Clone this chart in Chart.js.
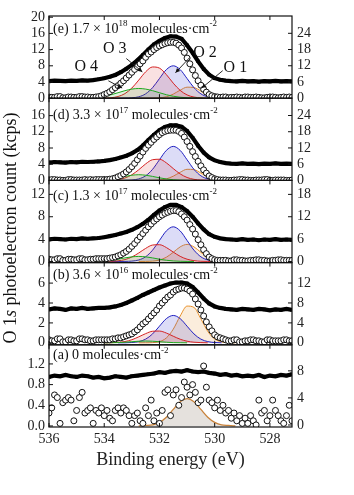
<!DOCTYPE html>
<html><head><meta charset="utf-8">
<script src="https://cdn.jsdelivr.net/npm/chart.js@4/dist/chart.umd.min.js"></script>
<style>html,body{margin:0;padding:0;background:#fff;}#wrap{width:354px;height:495px;}</style>
</head><body><div id="wrap"><canvas id="c" width="354" height="495"></canvas></div>
<script>
// ---------- DATA ----------
const energies = [536.0,535.8,535.6,535.4,535.2,535.0,534.8,534.6,534.4,534.2,534.0,533.8,533.6,533.4,533.2,533.0,532.8,532.6,532.4,532.2,532.0,531.8,531.6,531.4,531.2,531.0,530.8,530.6,530.4,530.2,530.0,529.8,529.6,529.4,529.2,529.0,528.8,528.6,528.4,528.2,528.0,527.8,527.6,527.4,527.2];
const energiesFine = [536.0,535.9,535.8,535.7,535.6,535.5,535.4,535.3,535.2,535.1,
 535.0,534.9,534.8,534.7,534.6,534.5,534.4,534.3,534.2,534.1,
 534.0,533.9,533.8,533.7,533.6,533.5,533.4,533.3,533.2,533.1,
 533.0,532.9,532.8,532.7,532.6,532.5,532.4,532.3,532.2,532.1,
 532.0,531.9,531.8,531.7,531.6,531.5,531.4,531.3,531.2,531.1,
 531.0,530.9,530.8,530.7,530.6,530.5,530.4,530.3,530.2,530.1,
 530.0,529.9,529.8,529.7,529.6,529.5,529.4,529.3,529.2,529.1,
 529.0,528.9,528.8,528.7,528.6,528.5,528.4,528.3,528.2,528.1,
 528.0,527.9,527.8,527.7,527.6,527.5,527.4,527.3,527.2];
const compEnergies = [534.5,534.25,534,533.75,533.5,533.25,533,532.75,532.5,532.25,532,531.75,531.5,531.25,531,530.75,530.5,530.25,530,529.75,529.5,529.25];

// (e) 1.7e18
const circlesE = [0.3,0.2,0.2,0.4,0.4,0.1,0.1,0.3,0.3,0.2,0.2,
 0.4,0.4,0.3,0.3,0.2,0.2,0.3,0.4,0.6,0.9,
 1.2,1.6,2.1,2.6,3.1,3.7,4.3,5.0,5.7,6.4,
 7.1,7.8,8.5,9.2,10.1,10.9,11.4,12.0,12.5,12.9,
 13.2,13.5,13.7,13.8,13.8,13.6,13.1,12.4,11.3,9.9,
 8.5,7.0,5.6,4.3,3.2,2.2,1.5,0.9,0.6,0.4,
 0.3,0.2,0.3,0.3,0.1,0.2,0.2,0.3,0.2,0.1,
 0.3,0.3,0.2,0.2,0.3,0.2,0.1,0.1,0.2,0.3,
 0.3,0.2,0.1,0.2,0.3,0.2,0.3,0.2];
const squaresE = [6.3,6.5,6.4,6.3,6.5,6.4,6.6,6.5,6.7,7.0,7.4,7.9,8.6,9.6,10.9,12.3,14.0,16.0,18.0,19.9,21.2,22.3,22.9,22.8,22.0,19.6,16.8,13.6,10.8,8.7,7.4,6.8,6.5,6.3,6.2,6.4,6.2,6.3,6.1,6.3,6.2,6.4,6.2,6.3,6.2];
const o4E = [0.1,0.24,0.48,0.86,1.35,1.86,2.25,2.4,2.25,1.86,1.35,0.86,0.48,0.24,0.1,0.04,0.01,0,null,null,null,null];
const o3E = [null,0,0.03,0.12,0.42,1.13,2.5,4.47,6.51,7.71,7.43,5.83,3.71,1.93,0.81,0.28,0.08,0.02,0,null,null,null];
const o2E = [null,null,null,0,0,0.02,0.09,0.35,1.08,2.6,4.86,7.06,8.0,7.06,4.86,2.6,1.08,0.35,0.09,0.02,0,null];
const o1E = [null,null,null,null,null,null,null,0,0,0.02,0.09,0.36,1.01,1.98,2.72,2.63,1.78,0.85,0.28,0.07,0.01,0];

// (d) 3.3e17
const circlesD = [0.1,0.2,0.2,0.1,0.1,0.0,0.0,0.2,0.2,0.1,0.1,
 0.1,0.1,0.2,0.1,0.2,0.1,0.2,0.2,0.2,0.2,
 0.2,0.3,0.4,0.6,0.9,1.2,1.6,2.1,2.7,3.4,
 4.2,5.1,6.0,7.0,7.9,8.7,9.4,10.1,10.7,11.3,
 11.8,12.1,12.3,12.4,12.4,12.4,12.1,11.6,10.7,9.6,
 8.4,7.1,5.9,4.7,3.6,2.6,1.8,1.1,0.7,0.4,
 0.2,0.1,0.1,0.1,0.0,0.0,0.1,0.1,0.2,0.2,
 0.1,0.1,0.0,0.0,0.1,0.1,0.1,0.2,0.2,0.0,
 0.0,0.1,0.1,0.1,0.1,0.0,0.0,0.1];
const squaresD = [6.6,6.8,6.7,6.6,6.8,6.7,6.9,6.8,6.9,7.0,7.2,7.5,7.9,8.5,9.1,10.0,11.2,12.9,14.9,16.9,18.6,19.8,20.4,20.4,19.9,18.3,15.8,12.8,10.3,8.5,7.4,6.8,6.4,6.2,6.1,6.3,6.1,6.2,6.0,6.2,6.1,6.3,6.1,6.2,6.1];
const o4D = [0.02,0.06,0.16,0.35,0.64,0.99,1.28,1.4,1.28,0.99,0.64,0.35,0.16,0.06,0.02,0,null,null,null,null,null,null];
const o3D = [null,0,0.01,0.06,0.21,0.59,1.39,2.63,4.07,5.11,5.22,4.33,2.92,1.61,0.72,0.26,0.08,0.02,0,null,null,null];
const o2D = [null,null,null,0,0,0.02,0.09,0.37,1.13,2.73,5.1,7.41,8.4,7.41,5.1,2.73,1.13,0.37,0.09,0.02,0,null];
const o1D = [null,null,null,null,null,null,null,0,0,0.02,0.1,0.38,1.04,2.0,2.74,2.65,1.82,0.9,0.31,0.08,0.02,0];

// (c) 1.3e17
const circlesC = [0.4,0.3,0.3,0.5,0.5,0.2,0.2,0.4,0.4,0.3,0.3,
 0.5,0.5,0.3,0.3,0.4,0.4,0.5,0.5,0.5,0.5,
 0.5,0.6,0.7,0.8,1.0,1.2,1.5,1.8,2.2,2.7,
 3.2,3.8,4.4,5.0,5.6,6.2,6.7,7.2,7.6,8.0,
 8.3,8.6,8.8,9.0,9.1,9.1,8.9,8.5,8.0,7.4,
 6.6,5.8,4.9,3.9,3.0,2.1,1.4,0.8,0.5,0.3,
 0.2,0.2,0.2,0.2,0.1,0.1,0.3,0.3,0.2,0.2,
 0.1,0.1,0.2,0.2,0.3,0.3,0.2,0.2,0.1,0.1,
 0.2,0.2,0.3,0.3,0.2,0.2,0.2,0.2];
const squaresC = [5.9,6.1,6.0,5.9,6.1,6.0,6.2,6.1,6.2,6.3,6.5,6.8,7.1,7.5,7.9,8.5,9.2,10.1,11.2,12.5,13.7,14.6,15.2,15.2,14.6,13.5,12.0,10.2,8.6,7.3,6.6,6.2,6.0,5.9,5.8,6.0,5.8,5.9,5.7,5.9,5.8,6.0,5.8,5.9,5.8];
const o4C = [0.01,0.04,0.1,0.22,0.41,0.64,0.83,0.9,0.83,0.64,0.41,0.22,0.1,0.04,0.01,0,null,null,null,null,null,null];
const o3C = [null,0,0.01,0.03,0.12,0.34,0.8,1.52,2.34,2.94,3.0,2.49,1.68,0.92,0.41,0.15,0.04,0.01,0,null,null,null];
const o2C = [null,null,null,0,0,0.01,0.07,0.27,0.84,2.02,3.76,5.47,6.2,5.47,3.76,2.02,0.84,0.27,0.07,0.01,0,null];
const o1C = [null,null,null,null,null,null,null,0,0.01,0.06,0.26,0.76,1.64,2.61,3.05,2.61,1.64,0.76,0.26,0.06,0.01,0];

// (b) 3.6e16
const circlesB = [0.3,0.2,0.2,0.4,0.4,0.1,0.1,0.3,0.3,0.2,0.2,
 0.4,0.4,0.3,0.3,0.2,0.2,0.3,0.3,0.3,0.3,
 0.3,0.3,0.4,0.4,0.5,0.5,0.6,0.7,0.8,0.9,
 1.1,1.3,1.6,1.9,2.1,2.4,2.7,3.0,3.3,3.7,
 4.0,4.3,4.6,4.8,5.1,5.3,5.4,5.5,5.5,5.4,
 5.2,4.9,4.4,3.9,3.3,2.7,2.1,1.6,1.2,0.8,
 0.6,0.5,0.4,0.3,0.2,0.2,0.3,0.3,0.1,0.1,
 0.2,0.2,0.3,0.3,0.2,0.2,0.1,0.1,0.3,0.3,
 0.2,0.2,0.2,0.2,0.3,0.3,0.2,0.2];
const squaresB = [6.7,6.9,6.8,6.6,6.9,6.8,7.0,6.8,6.9,7.0,7.0,7.1,7.3,7.6,8.0,8.5,9.0,9.6,10.1,10.6,11.1,11.5,11.9,12.1,12.1,11.9,11.2,10.1,8.9,7.9,7.3,7.0,6.8,6.7,6.6,6.8,6.7,6.6,6.8,6.7,6.5,6.7,6.6,6.8,6.6];
const o4B = [null,null,0,0.01,0.02,0.06,0.11,0.16,0.18,0.16,0.11,0.06,0.02,0.01,0,null,null,null,null,null,null,null];
const o3B = [null,null,0,0.01,0.05,0.13,0.31,0.6,0.92,1.16,1.18,0.98,0.66,0.36,0.16,0.06,0.02,0,null,null,null,null];
const o2B = [null,null,null,null,0,0,0.03,0.12,0.37,0.89,1.67,2.43,2.75,2.43,1.67,0.89,0.37,0.12,0.03,0,null,null];
const o1B = [null,null,null,null,null,null,null,0,0,0.02,0.12,0.49,1.37,2.69,3.69,3.56,2.41,1.15,0.38,0.09,0.02,0];

// (a) 0
const circlesA = [0.25,0.35,0.6,0.55,0.05,0.45,0.5,0.55,0.5,0.1,0.3,
 0.55,0.65,0.25,0.3,0.35,0.05,0.3,0.25,0.35,0.2,
 0.3,0.15,0.1,0.3,0.35,0.25,0.35,0.3,0.2,0.05,
 0.2,0.25,0.1,0.05,0.35,0.2,0.5,0.1,0.25,0.05,
 0.3,0.65,0.7,0.2,0.6,0.7,0.4,0.55,0.85,0.75,
 0.6,0.8,0.65,0.45,0.5,1.16,0.75,0.5,0.45,0.35,
 0.5,0.3,0.4,0.25,0.3,0.15,0.25,0.1,0.2,0.05,
 0.15,0.05,0.2,0.1,0.02,0.5,0.25,0.3,0.1,0.2,
 0.5,0.3,0.2,0.1,0.05,0.2,0.4,0.1];
const squaresA = [7.1,7.3,7.2,7.4,7.2,7.1,7.3,7.2,7.0,7.1,6.9,7.0,7.2,7.1,7.0,7.2,7.3,7.4,7.5,7.6,7.8,7.7,7.9,8.0,7.9,8.1,7.9,7.8,7.9,7.7,7.6,7.4,7.5,7.3,7.4,7.2,7.3,7.2,7.4,7.1,7.3,7.2,7.4,7.3,7.5];
const compA = [null,null,null,null,null,null,null,0,0.01,0.02,0.07,0.17,0.32,0.47,0.53,0.47,0.32,0.17,0.07,0.02,0.01,0];

// tick labels
const xTicks = [536,534,532,530,528];
const leftTicksE = [0,4,8,12,16,20], rightTicksE = [0,6,12,18,24];
const leftTicksD = [0,4,8,12,16],    rightTicksD = [0,6,12,18,24];
const leftTicksC = [0,4,8,12],       rightTicksC = [0,6,12,18];
const leftTicksB = [0,2,4,6],        rightTicksB = [0,4,8,12];
const leftTicksA = [0,0.4,0.8,1.2],  rightTicksA = [0,4,8];

// texts
const labelE = ['(e) 1.7 × 10','18',' molecules·cm','-2'];
const labelD = ['(d) 3.3 × 10','17',' molecules·cm','-2'];
const labelC = ['(c) 1.3 × 10','17',' molecules·cm','-2'];
const labelB = ['(b) 3.6 × 10','16',' molecules·cm','-2'];
const labelA = ['(a) 0 molecules·cm','-2'];
const peakNames = ['O 4','O 3','O 2','O 1'];
const yTitle = ['O 1','s',' photoelectron count (kcps)'];
const xTitle = 'Binding energy (eV)';

// ---------- LAYOUT / STYLE ----------
const SERIF = "'Liberation Serif','Times New Roman',serif";
const panels = [
 {id:'e', circles:circlesE, squares:squaresE, comps:[o4E,o3E,o2E,o1E], lT:leftTicksE, rT:rightTicksE, lR:[0,20.3], rR:[0,30.4], label:labelE, dy:13},
 {id:'d', circles:circlesD, squares:squaresD, comps:[o4D,o3D,o2D,o1D], lT:leftTicksD, rT:rightTicksD, lR:[0,20.3], rR:[0,30.4], label:labelD, dy:17},
 {id:'c', circles:circlesC, squares:squaresC, comps:[o4C,o3C,o2C,o1C], lT:leftTicksC, rT:rightTicksC, lR:[-0.2,14.5], rR:[-0.3,21.75], label:labelC, dy:16},
 {id:'b', circles:circlesB, squares:squaresB, comps:[o4B,o3B,o2B,o1B], lT:leftTicksB, rT:rightTicksB, lR:[-0.2,8.06], rR:[-0.4,16.1], label:labelB, dy:13},
 {id:'a', circles:circlesA, squares:squaresA, comps:[compA], lT:leftTicksA, rT:rightTicksA, lR:[-0.02,1.57], rR:[-0.3,11.85], label:labelA, dy:11, single:true}
];
const compLine = ['#1fa81f','#d42222','#2020c0','#e8902a'];
const compFill = ['rgba(40,170,40,0.14)','rgba(215,40,40,0.14)','rgba(40,40,205,0.16)','rgba(232,150,50,0.17)'];
// annotation anchors (panel e data coordinates)
const peakLabelAt = [[534.65,7.8],[533.62,12.3],[530.35,11.3],[529.25,7.5]];
const peakArrows = [[533.85,4.3,533.35,2.5],[533.2,9.8,532.62,6.5],[530.91,10.0,531.42,6.3],[529.71,6.8,530.47,2.5]];

const pts = (xs, ys) => ys.map((y,i) => ({x: xs[i], y: y}));

const datasets = [];
panels.forEach(p => {
  datasets.push({data: pts(energiesFine, p.circles), yAxisID:'L'+p.id, showLine:false, pointStyle:'circle', pointRadius:3, pointBorderWidth:1, pointBorderColor:'#111', pointBackgroundColor:'#fff', order:0});
  datasets.push({data: pts(energies, p.squares), yAxisID:'R'+p.id, borderColor:'#000', borderWidth:4.2, pointStyle:'rect', pointRadius:2.4, pointBorderWidth:0, pointBackgroundColor:'#000', fill:false, order:1});
  p.comps.forEach((arr, k) => {
    datasets.push({data: pts(compEnergies, arr), yAxisID:'L'+p.id,
      borderColor: p.single ? '#c8823a' : compLine[k], borderWidth: p.single ? 1.3 : 1,
      backgroundColor: p.single ? 'rgba(190,180,170,0.4)' : compFill[k],
      fill:'origin', pointRadius:0, cubicInterpolationMode:'monotone', spanGaps:false, order:2});
  });
});

const tickFont = {family: SERIF, size: 14};
const scales = {
  x: {type:'linear', position:'bottom', reverse:true, min:527.2, max:536,
      grid:{display:false, drawTicks:false}, border:{display:false},
      ticks:{font:tickFont, color:'#222', padding:4, maxRotation:0, autoSkip:false, callback: v => String(v)},
      afterBuildTicks: s => { s.ticks = xTicks.map(v => ({value:v})); },
      title:{display:true, text:xTitle, font:{family:SERIF, size:18}, color:'#222', padding:{top:4, bottom:24}},
      afterFit: s => { s.height = 68; }}
};
panels.forEach((p, i) => {
  scales['L'+p.id] = {type:'linear', position:'left', stack:'left', stackWeight:1, weight:10-i,
    min:p.lR[0], max:p.lR[1], grid:{display:false, drawTicks:false}, border:{display:false},
    ticks:{font:tickFont, color:'#222', padding:4, autoSkip:false, callback: v => p.single ? v.toFixed(1) : String(v)},
    afterBuildTicks: s => { s.ticks = p.lT.map(v => ({value:v})); },
    afterFit: s => { s.width = 49; }};
  scales['R'+p.id] = {type:'linear', position:'right', stack:'right', stackWeight:1, weight:i+1,
    min:p.rR[0], max:p.rR[1], grid:{display:false, drawTicks:false}, border:{display:false},
    ticks:{font:tickFont, color:'#222', padding:5, autoSkip:false, callback: v => String(v)},
    afterBuildTicks: s => { s.ticks = p.rT.map(v => ({value:v})); },
    afterFit: s => { s.width = 62; }};
});

function drawRich(ctx, segs, x, y, fonts, offs, center) {
  let w = 0;
  segs.forEach((t,i) => { ctx.font = fonts[i % fonts.length]; w += ctx.measureText(t).width; });
  let cx = center ? x - w/2 : x;
  segs.forEach((t,i) => { ctx.font = fonts[i % fonts.length]; ctx.fillText(t, cx, y + offs[i % offs.length]); cx += ctx.measureText(t).width; });
}
function seg(ctx, x1, y1, x2, y2) { ctx.beginPath(); ctx.moveTo(x1,y1); ctx.lineTo(x2,y2); ctx.stroke(); }
function arrow(ctx, x1, y1, x2, y2) {
  seg(ctx, x1, y1, x2, y2);
  const a = Math.atan2(y2-y1, x2-x1), L = 5, w = 0.45;
  ctx.beginPath(); ctx.moveTo(x2,y2);
  ctx.lineTo(x2 - L*Math.cos(a-w), y2 - L*Math.sin(a-w));
  ctx.lineTo(x2 - L*Math.cos(a+w), y2 - L*Math.sin(a+w));
  ctx.closePath(); ctx.fill();
}

const decor = {
  id:'decor',
  afterDraw(chart) {
    const {ctx, chartArea:A, scales:S} = chart;
    ctx.save();
    ctx.strokeStyle = '#111'; ctx.fillStyle = '#111'; ctx.lineWidth = 1.2;
    panels.forEach(p => {
      const L = S['L'+p.id], R = S['R'+p.id];
      ctx.strokeRect(A.left, L.top, A.right - A.left, L.bottom - L.top);
      ctx.lineWidth = 1;
      L.ticks.forEach(t => { const y = L.getPixelForValue(t.value); seg(ctx, A.left, y, A.left+4, y); });
      R.ticks.forEach(t => { const y = R.getPixelForValue(t.value); seg(ctx, A.right-4, y, A.right, y); });
      xTicks.forEach(v => { const x = S.x.getPixelForValue(v); seg(ctx, x, L.bottom, x, L.bottom-4); seg(ctx, x, L.top, x, L.top+4); });
      ctx.lineWidth = 1.2;
      ctx.textBaseline = 'middle'; ctx.textAlign = 'left';
      drawRich(ctx, p.label, A.left + 4, L.top + p.dy, ['14px '+SERIF, '9px '+SERIF], [0,-5], false);
    });
    // peak labels in panel (e)
    const Le = S.Le, X = S.x;
    ctx.font = '16px ' + SERIF; ctx.textAlign = 'center'; ctx.textBaseline = 'middle';
    peakNames.forEach((n,i) => ctx.fillText(n, X.getPixelForValue(peakLabelAt[i][0]), Le.getPixelForValue(peakLabelAt[i][1])));
    ctx.lineWidth = 0.9;
    peakArrows.forEach(a => arrow(ctx, X.getPixelForValue(a[0]), Le.getPixelForValue(a[1]), X.getPixelForValue(a[2]), Le.getPixelForValue(a[3])));
    // y title
    ctx.save();
    ctx.translate(11, 228); ctx.rotate(-Math.PI/2);
    ctx.textAlign = 'left'; ctx.textBaseline = 'middle';
    drawRich(ctx, yTitle, 0, 0, ['18px '+SERIF, 'italic 18px '+SERIF, '18px '+SERIF], [0], true);
    ctx.restore();
    ctx.restore();
  }
};

new Chart(document.getElementById('c'), {
  type:'line',
  data:{datasets},
  options:{
    responsive:false, animation:false, events:[],
    layout:{padding:{top:16, left:0, right:0, bottom:0}},
    plugins:{legend:{display:false}, tooltip:{enabled:false}, title:{display:false}},
    scales
  },
  plugins:[decor]
});
</script>
</body></html>
